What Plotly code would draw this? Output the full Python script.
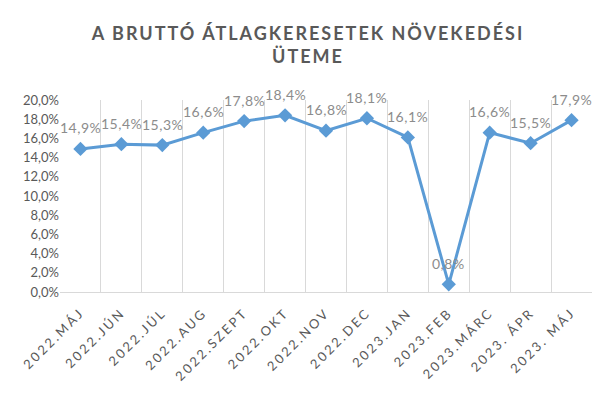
import plotly.graph_objects as go

# ---------- Data ----------
months = ["2022.MÁJ", "2022.JÚN", "2022.JÚL", "2022.AUG", "2022.SZEPT",
          "2022.OKT", "2022.NOV", "2022.DEC", "2023.JAN", "2023.FEB",
          "2023.MÁRC", "2023. ÁPR", "2023. MÁJ"]
growth = [14.9, 15.4, 15.3, 16.6, 17.8, 18.4, 16.8, 18.1, 16.1, 0.8,
          16.6, 15.5, 17.9]
labels = [f"{v:.1f}%".replace(".", ",") for v in growth]

FONT = "Lato"
blue = "#5b9bd5"


def spaced(s, px):
    # wider letter spacing, like the Excel styling
    return f'<span style="letter-spacing:{px}px">{s}</span>'


# ---------- Plot ----------
fig = go.Figure()
fig.add_trace(go.Scatter(
    x=months, y=growth,
    mode="lines+markers",
    line=dict(color=blue, width=3),
    marker=dict(symbol="diamond", size=11, color=blue),
    cliponaxis=False,
    showlegend=False,
))

# data labels sit a bit higher than plotly's default "top center"
for m, v, t in zip(months, growth, labels):
    fig.add_annotation(
        x=m, y=v, text=spaced(t, 0.5), showarrow=False,
        yshift=21, font=dict(family=FONT, size=14, color="#8c8c8c"),
    )

fig.update_layout(
    title=dict(
        text=spaced("A BRUTTÓ ÁTLAGKERESETEK NÖVEKEDÉSI", 2) + "<br>" + spaced("ÜTEME", 2),
        x=0.5, xanchor="center", y=0.92, yanchor="top",
        font=dict(family=FONT, size=18, color="#595959", weight="bold"),
    ),
    width=600, height=400,
    paper_bgcolor="white",
    plot_bgcolor="white",
    separators=",.",
    margin=dict(l=52, r=16, t=92, b=116),
    font=dict(family=FONT, size=13, color="#595959"),
    xaxis=dict(
        type="category",
        range=[-0.5, len(months) - 0.5],
        tickson="boundaries",
        tickvals=months,
        ticktext=[spaced(m, 2.5) for m in months],
        showgrid=True, gridcolor="#d9d9d9", gridwidth=1,
        showline=True, linecolor="#d9d9d9",
        ticks="", tickangle=-45, automargin=False,
        ticklabelstandoff=7,
        tickfont=dict(family=FONT, size=13, color="#595959"),
    ),
    yaxis=dict(
        range=[0, 20], dtick=2, tickformat=".1f", ticksuffix="%",
        showgrid=False, zeroline=False, automargin=False,
        tickfont=dict(family=FONT, size=13, color="#595959"),
    ),
)

fig.write_html("out.html")
